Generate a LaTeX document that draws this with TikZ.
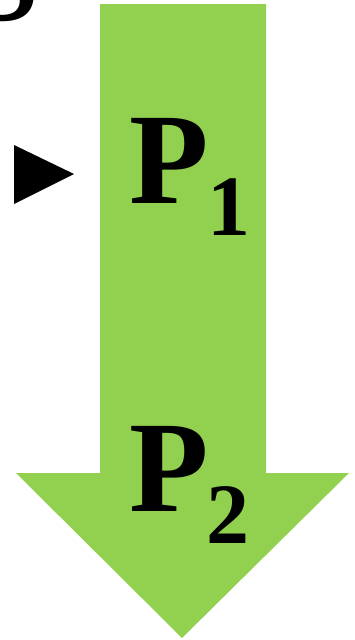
\documentclass[tikz,border=0pt]{standalone}
\usepackage{xcolor}
\definecolor{arGreen}{HTML}{92D050}
\definecolor{arBlack}{HTML}{000000}
\usepackage{fontspec}
\setmainfont{Liberation Serif}
\usepackage{tikz}
\usetikzlibrary{positioning, calc}

\begin{document}
\begin{tikzpicture}[
        x=1pt, y=-1pt,
        bigletter/.style={inner sep=0pt, anchor=base, font=\fontsize{130}{130}\selectfont\bfseries, text=arBlack},
        subdigit/.style={inner sep=0pt, anchor=base, font=\fontsize{86}{86}\selectfont\bfseries, text=arBlack},
        flowarrow/.style={fill=arGreen, draw=none},
        marker/.style={fill=arBlack, draw=none},
    ]
        \useasboundingbox (0,0) rectangle (354,640);
        \clip (0,0) rectangle (354,640);

        % Partly hidden letter
        \node[bigletter] (cut) at (4,20) {S};

        % Big down arrow
        \fill[flowarrow] (100,4) -- (266,4) -- (266,473) -- (349,473)
            -- (182,638) -- (16,473) -- (100,473) -- cycle;

        % Marker
        \fill[marker] (14,145) -- (74,174) -- (14,204) -- cycle;

        % Labels
        \node[bigletter] (p1) at (169,203) {P};
        \node[subdigit] (s1) at (229,235) {1};
        \node[bigletter] (p2) at (169,511) {P};
        \node[subdigit] (s2) at (228,543) {2};

    \end{tikzpicture}
\end{document}
